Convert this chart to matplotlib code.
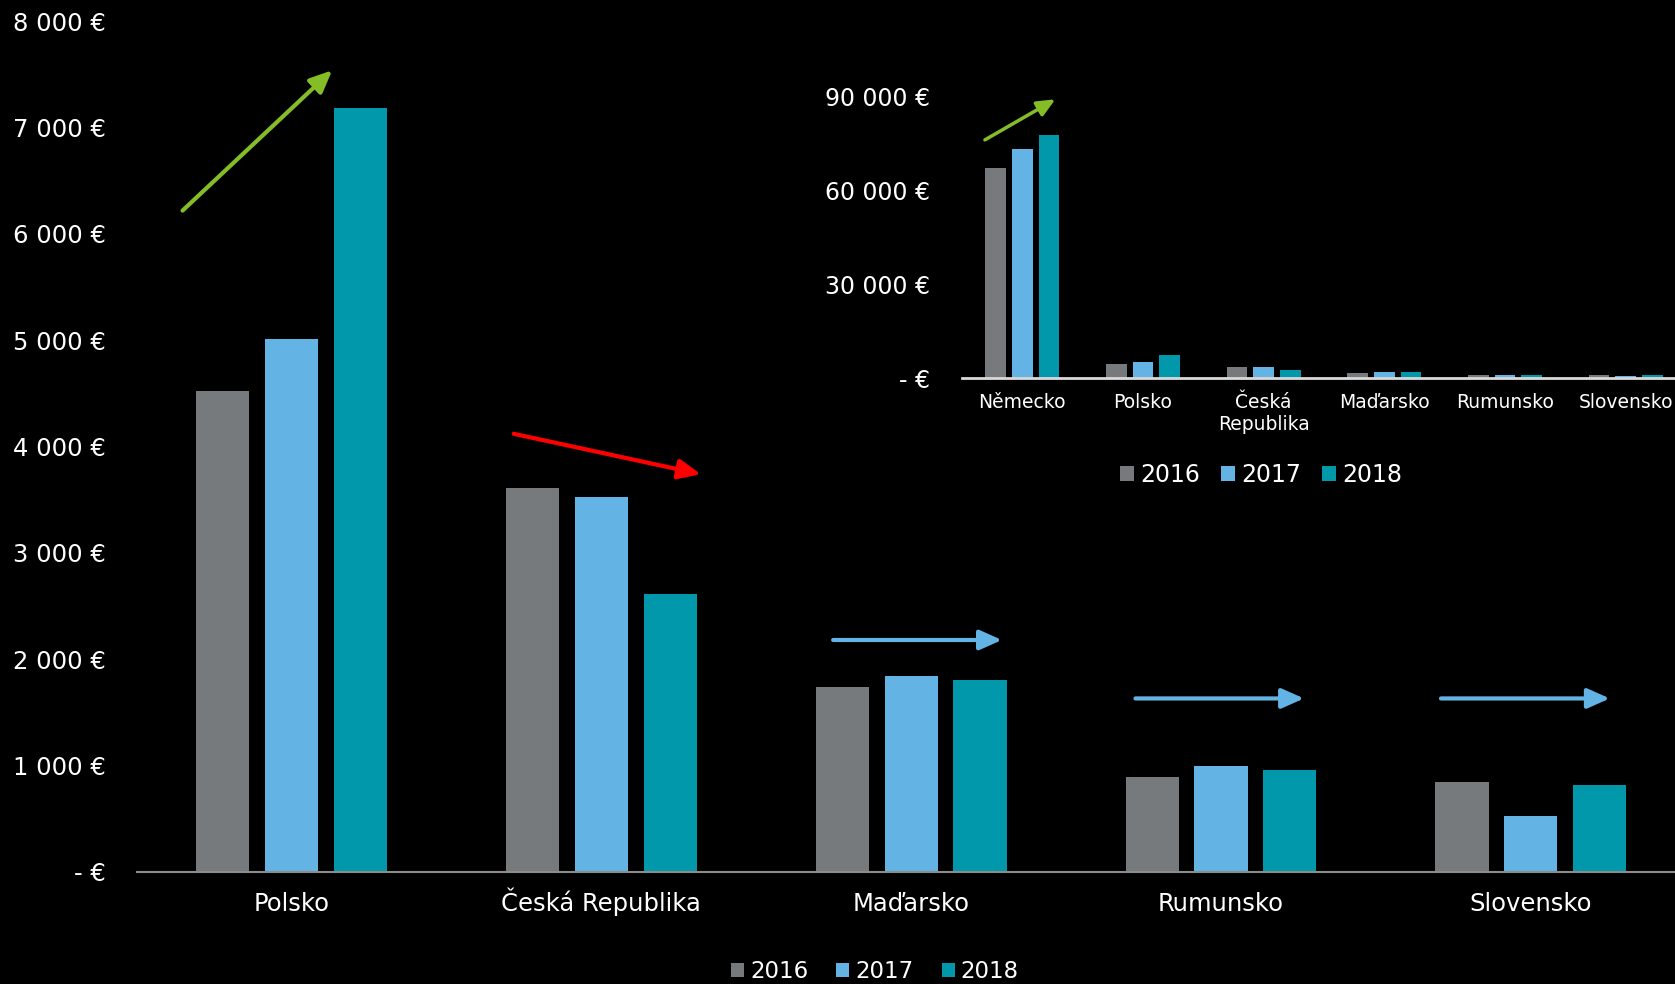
import numpy as np
import matplotlib.pyplot as plt
from matplotlib.ticker import FuncFormatter

# data: yearly values per country (EUR)
years = ["2016", "2017", "2018"]
countries = ["Polsko", "Česká Republika", "Maďarsko", "Rumunsko", "Slovensko"]
v2016 = [4520, 3610, 1740, 895, 845]
v2017 = [5015, 3530, 1840, 995, 525]
v2018 = [7185, 2615, 1800, 955, 815]

# small overview chart incl. Germany
inset_countries = ["Německo", "Polsko", "Česká\nRepublika", "Maďarsko", "Rumunsko", "Slovensko"]
inset_2016 = [67000, 4520, 3610, 1740, 895, 845]
inset_2017 = [73000, 5015, 3530, 1840, 995, 525]
inset_2018 = [77500, 7185, 2615, 1800, 955, 815]

colors = ["#767A7D", "#63B4E4", "#0098AA"]
green, red, blue = "#84BD26", "#FF0000", "#63B4E4"

# trend arrows: (start x, start y, end x, end y, colour)
trend_arrows = [
    (-0.352, 6220, 0.131, 7540, green),
    (0.717, 4120, 1.321, 3740, red),
    (1.748, 2180, 2.293, 2180, blue),
    (2.724, 1630, 3.268, 1630, blue),
    (3.710, 1630, 4.255, 1630, blue),
]


def euro(v, pos=None):
    if v == 0:
        return "- €"
    return f"{v:,.0f} €".replace(",", " ")


fig = plt.figure(figsize=(16.75, 9.84), dpi=100, facecolor="black")

# ---- main chart ----
ax = fig.add_axes([136.7 / 1675, 1 - 871.7 / 984, 1549 / 1675, 850.3 / 984])
ax.set_facecolor("black")
x = np.arange(len(countries))
w, off = 0.172, 0.222
for i, (vals, c) in enumerate(zip([v2016, v2017, v2018], colors)):
    ax.bar(x + (i - 1) * off, vals, width=w, color=c, label=years[i], zorder=2)

ax.set_xlim(-0.5, len(countries) - 0.5)
ax.set_ylim(0, 8000)
ax.set_yticks(np.arange(0, 8001, 1000))
ax.yaxis.set_major_formatter(FuncFormatter(euro))
ax.set_xticks(x)
ax.set_xticklabels(countries)
for s in ["top", "right", "left"]:
    ax.spines[s].set_visible(False)
ax.spines["bottom"].set_color("#8C8C8C")
ax.spines["bottom"].set_linewidth(1.5)
ax.tick_params(axis="y", length=0, pad=22, labelsize=17.5, labelcolor="white")
ax.tick_params(axis="x", length=0, pad=28, labelsize=17.5, labelcolor="white")
for lbl in ax.get_xticklabels():
    lbl.set_verticalalignment("baseline")

for x0, y0, x1, y1, c in trend_arrows:
    ax.annotate("", xy=(x1, y1), xytext=(x0, y0),
                arrowprops=dict(arrowstyle="-|>,head_length=0.45,head_width=0.2",
                                color=c, lw=3, mutation_scale=30,
                                shrinkA=0, shrinkB=0))

fig.legend(loc="center", bbox_to_anchor=(875 / 1675, 0.0125), ncol=3, frameon=False,
           fontsize=16.5, labelcolor="white", handlelength=0.57, handleheight=0.57,
           handletextpad=0.26, columnspacing=1.22, borderaxespad=0)

# ---- overview inset ----
ins = fig.add_axes([962 / 1675, 1 - 378 / 984, 724 / 1675, 282 / 984])
ins.set_facecolor("black")
xi = np.arange(len(inset_countries))
for i, (vals, c) in enumerate(zip([inset_2016, inset_2017, inset_2018], colors)):
    ins.bar(xi + (i - 1) * off, vals, width=w, color=c, label=years[i], zorder=2)
ins.set_xlim(-0.5, len(inset_countries) - 0.5)
ins.set_ylim(0, 90000)
ins.set_yticks([0, 30000, 60000, 90000])
ins.yaxis.set_major_formatter(FuncFormatter(euro))
ins.set_xticks(xi)
ins.set_xticklabels(inset_countries)
for s in ["top", "right", "left"]:
    ins.spines[s].set_visible(False)
ins.spines["bottom"].set_color("#D9D9D9")
ins.spines["bottom"].set_linewidth(2)
ins.tick_params(axis="y", length=0, pad=23, labelsize=17, labelcolor="white")
ins.tick_params(axis="x", length=0, pad=11, labelsize=13.5, labelcolor="white")
for lbl in ins.get_xticklabels():
    lbl.set_linespacing(1.15)

ins.annotate("", xy=(0.274, 88950), xytext=(-0.31, 76000),
             arrowprops=dict(arrowstyle="-|>,head_length=0.45,head_width=0.2",
                             color=green, lw=2.5, mutation_scale=24,
                             shrinkA=0, shrinkB=0), annotation_clip=False)

ins.legend(loc="center", bbox_to_anchor=(1261 / 1675, 1 - 475 / 984),
           bbox_transform=fig.transFigure, ncol=3, frameon=False, fontsize=17,
           labelcolor="white", handlelength=0.6, handleheight=0.6,
           handletextpad=0.24, columnspacing=0.9, borderaxespad=0)

fig.savefig("out.png", dpi=100, facecolor="black")
